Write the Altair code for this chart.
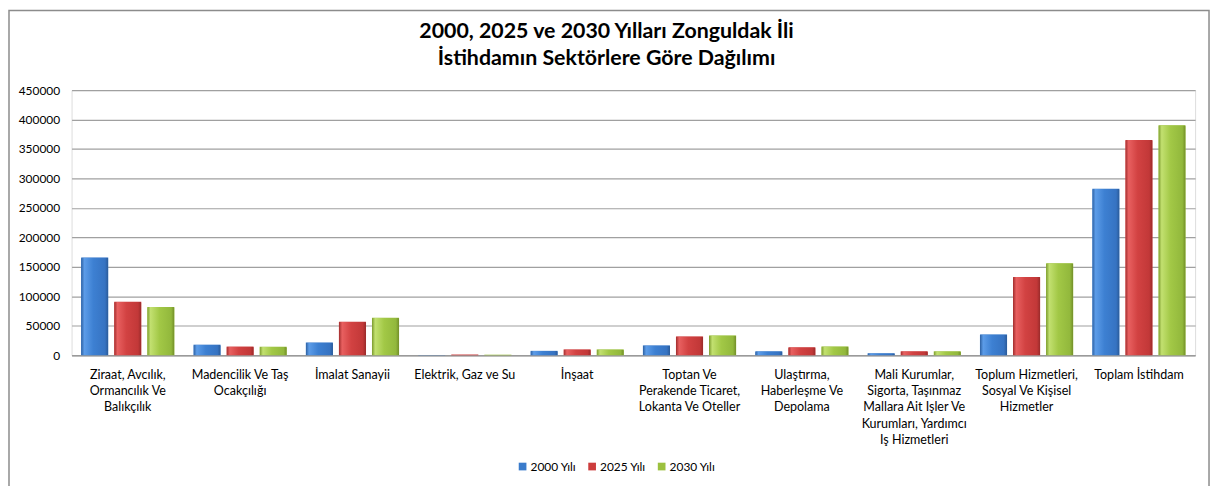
import altair as alt
import pandas as pd

categories = [
    "Ziraat, Avcılık,|Ormancılık Ve|Balıkçılık",
    "Madencilik Ve Taş|Ocakçılığı",
    "İmalat Sanayii",
    "Elektrik, Gaz ve Su",
    "İnşaat",
    "Toptan Ve|Perakende Ticaret,|Lokanta Ve Oteller",
    "Ulaştırma,|Haberleşme Ve|Depolama",
    "Mali Kurumlar,|Sigorta, Taşınmaz|Mallara Ait Işler Ve|Kurumları, Yardımcı|Iş Hizmetleri",
    "Toplum Hizmetleri,|Sosyal Ve Kişisel|Hizmetler",
    "Toplam İstihdam",
]
series = ["2000 Yılı", "2025 Yılı", "2030 Yılı"]
values_2000 = [166000, 18000, 21500, 300, 7500, 16800, 6700, 3400, 35400, 282600]
values_2025 = [91000, 14700, 56800, 1200, 10000, 32000, 13500, 6700, 132600, 365100]
values_2030 = [82000, 14500, 63500, 1000, 10000, 33700, 15000, 6700, 156200, 390400]
y_ticks = [0, 50000, 100000, 150000, 200000, 250000, 300000, 350000, 400000, 450000]
colors = ["#3A7BCB", "#CD3D3D", "#9CC13F"]
title_lines = ["2000, 2025 ve 2030 Yılları Zonguldak İli", "İstihdamın Sektörlere Göre Dağılımı"]

rows = []
for s, vals in zip(series, [values_2000, values_2025, values_2030]):
    for c, v in zip(categories, vals):
        rows.append({"cat": c, "series": s, "value": v})
df = pd.DataFrame(rows)

FONT = "Lato"
W, H = 1131, 267

base = alt.Chart(df).encode(
    x=alt.X(
        "cat:N",
        sort=categories,
        title=None,
        scale=alt.Scale(paddingInner=0.17, paddingOuter=0.085),
        axis=alt.Axis(
            labelExpr="split(datum.label, '|')",
            labelAngle=0,
            labelLimit=0,
            labelBaseline="top",
            labelLineHeight=16.5,
            labelPadding=13,
            labelFontSize=12.6,
            labelFont=FONT,
            labelColor="#000000",
            ticks=False,
            domainColor="#9a9a9a",
            domainWidth=1.5,
        ),
    ),
    xOffset=alt.XOffset("series:N", sort=series, scale=alt.Scale(paddingInner=0.18, paddingOuter=0)),
    y=alt.Y(
        "value:Q",
        title=None,
        scale=alt.Scale(domain=[0, 450000], nice=False),
        axis=alt.Axis(
            values=y_ticks,
            format="d",
            domain=False,
            ticks=False,
            labelPadding=12,
            labelFontSize=12,
            labelFont=FONT,
            labelColor="#000000",
            gridColor="#a0a0a0",
            gridWidth=1.2,
        ),
    ),
)

bars = base.mark_bar().encode(
    color=alt.Color(
        "series:N",
        sort=series,
        scale=alt.Scale(domain=series, range=colors),
        legend=alt.Legend(
            title=None,
            orient="none",
            legendX=448,
            legendY=373,
            direction="horizontal",
            symbolType="square",
            symbolSize=60,
            symbolStrokeWidth=0,
            labelFontSize=12,
            labelFont=FONT,
            labelColor="#000000",
            columnPadding=10,
            labelOffset=2,
        ),
    )
)

grad_stops = [
    ["#2C5FA0", "#5C9CE8", "#3D80D2", "#3673C2", "#2A5A98"],
    ["#A02C2C", "#E86060", "#D24242", "#C23838", "#982A2A"],
    ["#7A9A2C", "#C2E070", "#A2C846", "#92B83C", "#728E28"],
]
overlays = []
for s, st in zip(series, grad_stops):
    g = alt.Gradient(
        gradient="linear",
        x1=0, x2=1, y1=0, y2=0,
        stops=[
            alt.GradientStop(offset=0, color=st[0]),
            alt.GradientStop(offset=0.12, color=st[1]),
            alt.GradientStop(offset=0.45, color=st[2]),
            alt.GradientStop(offset=0.88, color=st[3]),
            alt.GradientStop(offset=1, color=st[4]),
        ],
    )
    overlays.append(
        base.transform_filter(alt.datum.series == s).mark_bar(color=g, cornerRadiusTopLeft=1.5, cornerRadiusTopRight=1.5)
    )

frame = alt.Chart(pd.DataFrame({"a": [0]})).mark_rect(
    fillOpacity=0, stroke="#8c8c8c", strokeWidth=1.5
).encode(
    x=alt.value(-63), x2=alt.value(1145), y=alt.value(-80), y2=alt.value(420)
)

chart = alt.layer(frame, bars, *overlays).properties(
    width=W,
    height=H,
    title=alt.TitleParams(
        text=title_lines,
        font=FONT,
        fontSize=21.5,
        fontWeight="bold",
        color="#000000",
        anchor="middle",
        lineHeight=27,
        dx=-27,
        offset=-60,
    ),
    autosize=alt.AutoSizeParams(type="none"),
    padding={"left": 64, "top": 81, "right": 16, "bottom": 130},
).configure_view(stroke=None).configure(background="white")

chart.save("out.html", embed_options={"renderer": "svg", "actions": False})
